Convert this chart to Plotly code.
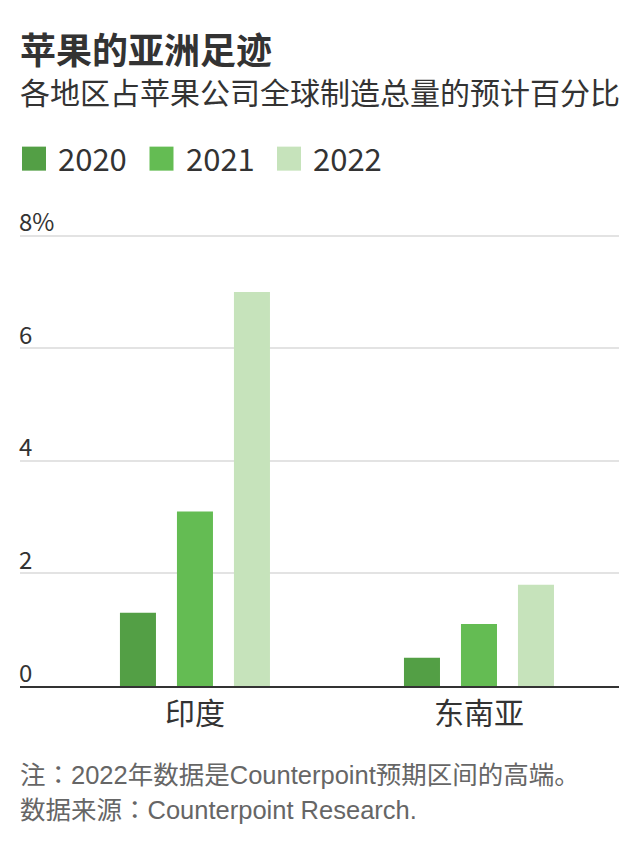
import plotly.graph_objects as go

categories = ["印度", "东南亚"]
years = ["2020", "2021", "2022"]
values_2020 = [1.3, 0.5]
values_2021 = [3.1, 1.1]
values_2022 = [7.0, 1.8]
series_values = [values_2020, values_2021, values_2022]
colors = ["#539f45", "#64bc53", "#c6e3bb"]
tick_vals = [0, 2, 4, 6, 8]
tick_text = ["0", "2", "4", "6", "8%"]

title = "苹果的亚洲足迹"
subtitle = "各地区占苹果公司全球制造总量的预计百分比"
note = "注：2022年数据是Counterpoint预期区间的高端。"
source = "数据来源：Counterpoint Research."

# page has an 8px body margin: work in page pixels, convert to figure pixels
OFF = 8
W, H = 639 - OFF, 852 - OFF
Y_TOP = 8.03
plot_left, plot_right = 20, 619
plot_bottom = 686
unit = 56.25
plot_top = plot_bottom - Y_TOP * unit
L = plot_left - OFF
R = W - (plot_right - OFF)
T = plot_top - OFF
B = H - (plot_bottom - OFF)
PW = W - L - R
PH = H - T - B

def px(x):
    return (x - OFF - L) / PW

def py(y):
    return (H - B - (y - OFF)) / PH

CJK = "Noto Sans CJK SC"
TEXT = "#333333"
FOOT = "Liberation Sans, Noto Sans CJK JP"

fig = go.Figure()
for name, vals, col in zip(years, series_values, colors):
    fig.add_trace(go.Bar(x=categories, y=vals, name=name, marker=dict(color=col, line=dict(width=0)),
                         showlegend=False, hoverinfo="x+y+name"))

# Manual legend (large square swatches)
for i, (name, col) in enumerate(zip(years, colors)):
    x0 = 22 + i * 127.5
    fig.add_shape(type="rect", xref="paper", yref="paper",
                  x0=px(x0), x1=px(x0 + 24), y0=py(171), y1=py(147),
                  fillcolor=col, line=dict(width=0))
    fig.add_annotation(text=name, xref="paper", yref="paper", x=px(x0 + 34), y=py(158),
                       xanchor="left", yanchor="middle", showarrow=False,
                       font=dict(family=CJK, size=31, color=TEXT))

fig.add_annotation(text="<b>" + title + "</b>", xref="paper", yref="paper", x=px(18), y=py(48),
                   xanchor="left", yanchor="middle", showarrow=False,
                   font=dict(family=CJK, size=36, color=TEXT))
fig.add_annotation(text=subtitle, xref="paper", yref="paper", x=px(18), y=py(91),
                   xanchor="left", yanchor="middle", showarrow=False,
                   font=dict(family=CJK, size=30, color=TEXT))
fig.add_annotation(text=note, xref="paper", yref="paper", x=px(18), y=py(775),
                   xanchor="left", yanchor="middle", showarrow=False,
                   font=dict(family=FOOT, size=25.5, color="#666666"))
fig.add_annotation(text=source, xref="paper", yref="paper", x=px(18), y=py(810),
                   xanchor="left", yanchor="middle", showarrow=False,
                   font=dict(family=FOOT, size=25.5, color="#666666"))

fig.update_layout(
    width=W, height=H,
    margin=dict(l=L, r=R, t=T, b=B, pad=0),
    paper_bgcolor="white", plot_bgcolor="white",
    barmode="group", bargap=0.398, bargroupgap=0.368,
    xaxis=dict(type="category", range=[-0.616, 1.493], showline=True, linecolor="#333333",
               linewidth=2, ticks="", showgrid=False,
               tickfont=dict(family=CJK, size=30, color=TEXT)),
    yaxis=dict(range=[0, Y_TOP], tickvals=tick_vals, ticktext=tick_text,
               ticklabelposition="inside top", ticklabeloverflow="allow",
               ticklabelstandoff=-4, ticklabelshift=4,
               showgrid=True, gridcolor="#e3e3e3", gridwidth=2, zeroline=False,
               showline=False, ticks="",
               tickfont=dict(family=CJK, size=24, color=TEXT)),
    font=dict(family=CJK, color=TEXT),
)

fig.write_html("out.html")
